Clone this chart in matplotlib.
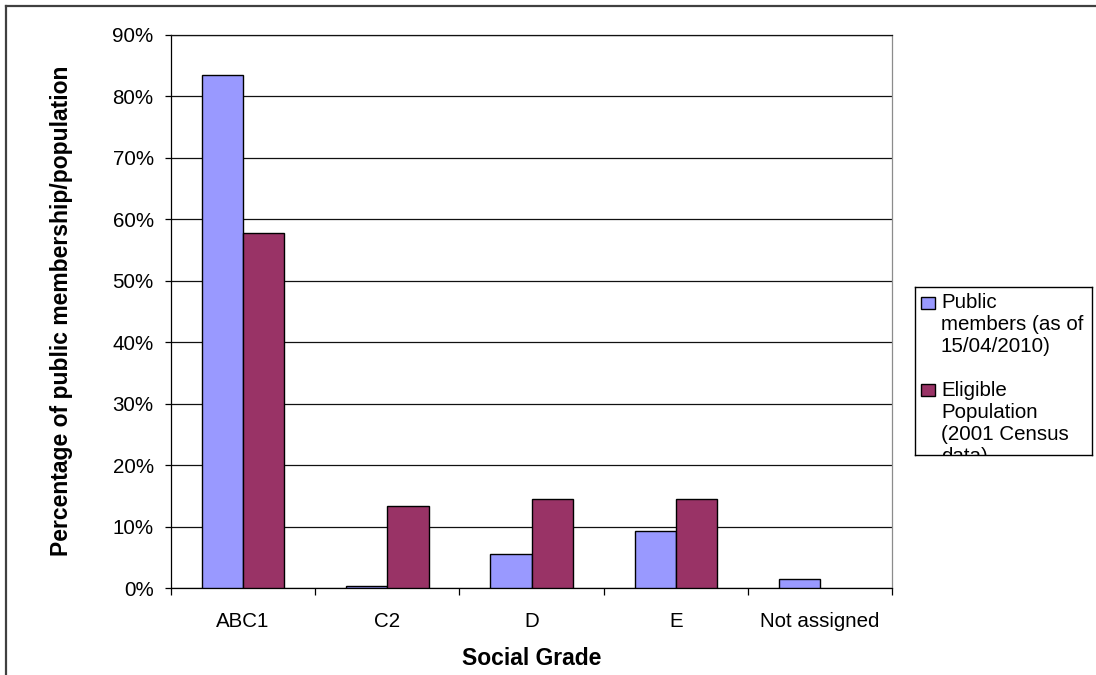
import matplotlib
matplotlib.use("Agg")
import matplotlib.pyplot as plt
from matplotlib.patches import Rectangle
from matplotlib.lines import Line2D
import numpy as np

plt.rcParams['font.family'] = ['Liberation Sans', 'DejaVu Sans']

# Social grade breakdown
grades = ["ABC1", "C2", "D", "E", "Not assigned"]
public_members = [83.5, 0.4, 5.5, 9.2, 1.4]        # % of public membership
eligible_population = [57.7, 13.4, 14.5, 14.5, 0.0]  # % of eligible population
y_ticks = [0, 10, 20, 30, 40, 50, 60, 70, 80, 90]
legend_labels = ["Public\nmembers (as of\n15/04/2010)",
                 "Eligible\nPopulation\n(2001 Census\ndata)"]
series_colors = ["#9999FF", "#993366"]

W, H = 1096, 675
fig = plt.figure(figsize=(W / 100, H / 100), dpi=100)
fig.patch.set_facecolor("white")

# plot area in pixels: x 171..892, y 34.7..588
ax = fig.add_axes([171 / W, (H - 588) / H, (892 - 171) / W, (588 - 34.7) / H])

x = np.arange(len(grades))
w = 1 / 3.5
for offset, vals, col in [(-w / 2, public_members, series_colors[0]),
                          (w / 2, eligible_population, series_colors[1])]:
    bars = ax.bar(x + offset, vals, width=w, color=col, edgecolor="black",
                  linewidth=1.0, zorder=3)
    for b, v in zip(bars, vals):
        if v == 0:
            b.set_visible(False)

ax.set_xlim(-0.5, len(grades) - 0.5)
ax.set_ylim(0, 90)
ax.set_yticks(y_ticks)
ax.set_yticklabels([f"{v}%" for v in y_ticks])
ax.set_xticks(x)
ax.set_xticklabels(grades)
ax.set_xticks(np.arange(len(grades) + 1) - 0.5, minor=True)

ax.grid(axis="y", color="#111111", linewidth=0.9, zorder=0)
ax.set_axisbelow(True)

ax.tick_params(axis="y", which="major", direction="out", length=4.5,
               width=0.9, pad=8, labelsize=14.8, colors="black")
ax.tick_params(axis="x", which="major", length=0, pad=17.5, labelsize=14.8)
ax.tick_params(axis="x", which="minor", direction="out", length=4.8, width=0.9)

for side in ["left", "bottom", "top"]:
    ax.spines[side].set_color("black")
    ax.spines[side].set_linewidth(0.9)
ax.spines["right"].set_color("#8c8c8c")
ax.spines["right"].set_linewidth(0.9)
ax.spines["top"].set_color("#111111")

fig.text(531.5 / W, (H - 665) / H, "Social Grade", ha="center", va="baseline",
         fontsize=16.5, fontweight="bold")
fig.text(62 / W, (H - 311) / H, "Percentage of public membership/population",
         ha="center", va="center", rotation=90, fontsize=16.5, fontweight="bold")

# legend box (content clipped to the frame)
lx0, ly0, lx1, ly1 = 915, 287, 1092, 455
lax = fig.add_axes([lx0 / W, (H - ly1) / H, (lx1 - lx0) / W, (ly1 - ly0) / H])
lax.set_xlim(0, lx1 - lx0)
lax.set_ylim(ly1 - ly0, 0)
lax.set_xticks([])
lax.set_yticks([])
for s in lax.spines.values():
    s.set_color("black")
    s.set_linewidth(1.0)

line_pitch = 22
entry_tops = [16, 103]
for label, col, y0 in zip(legend_labels, series_colors, entry_tops):
    lax.add_patch(Rectangle((6, y0 - 6), 14, 12, facecolor=col,
                            edgecolor="black", linewidth=1.0))
    for i, line in enumerate(label.split("\n")):
        lax.text(26, y0 + i * line_pitch, line, ha="left", va="center",
                 fontsize=14.8, clip_on=True)

# outer chart border (top and left)
fig.add_artist(Line2D([6 / W, 6 / W], [0, (H - 6) / H], color="#404040",
                      linewidth=1.6, transform=fig.transFigure))
fig.add_artist(Line2D([6 / W, 1], [(H - 6) / H, (H - 6) / H], color="#404040",
                      linewidth=1.6, transform=fig.transFigure))

fig.savefig("out.png", dpi=100, facecolor="white")
